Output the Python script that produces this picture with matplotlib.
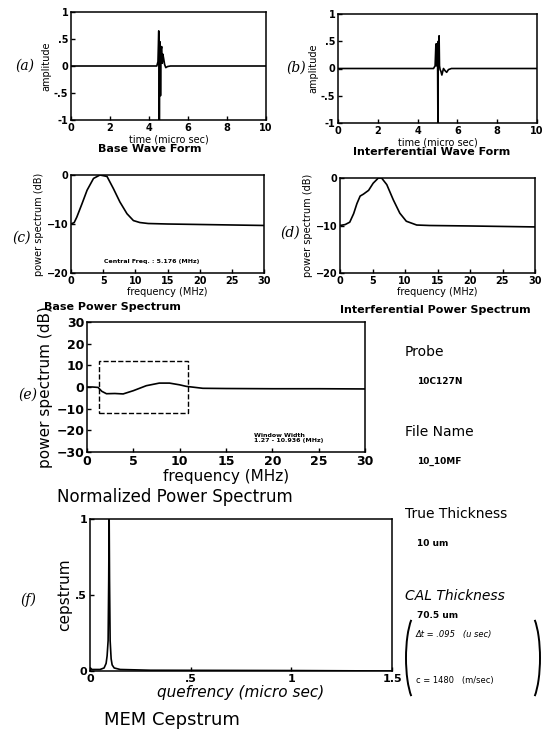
import matplotlib
matplotlib.use('Agg')
import matplotlib.pyplot as plt
from matplotlib.patches import Rectangle, Arc

W, H = 548, 731

# (a) base wave form
a_t = [0, 4.40, 4.46, 4.50, 4.53, 4.56, 4.59, 4.62, 4.65, 4.68, 4.71, 4.75, 4.80, 4.86, 4.95, 5.10, 10]
a_v = [0, 0.0, 0.08, 0.65, -1.0, 0.45, -0.55, 0.30, 0.36, 0.05, 0.22, 0.14, 0.03, -0.03, -0.01, 0.0, 0.0]

# (b) interferential wave form
b_t = [0, 4.80, 4.88, 4.92, 4.94, 4.96, 4.98, 5.00, 5.02, 5.04, 5.06, 5.08, 5.10, 5.13, 5.17, 5.22, 5.30, 5.38, 5.46, 5.55, 5.70, 10]
b_v = [0, 0, 0.05, 0.45, 0.05, 0.45, 0.1, 0.45, -1.0, 0.5, 0.1, 0.6, 0.05, -0.02, -0.05, -0.12, 0.0, -0.04, -0.07, -0.02, 0, 0]

# (c) base power spectrum
c_f = [0, 0.5, 0.9, 1.7, 2.5, 3.5, 4.5, 5.6, 6.6, 7.6, 8.7, 9.7, 10.7, 12, 15, 20, 25, 30]
c_db = [-10, -9.7, -8.6, -5.9, -3.1, -0.7, 0, -0.3, -2.8, -5.5, -7.9, -9.3, -9.7, -9.9, -10, -10.1, -10.2, -10.3]

# (d) interferential power spectrum
d_f = [0, 0.8, 1.5, 2.1, 2.6, 3.1, 3.6, 4.4, 5.1, 5.9, 6.4, 7.2, 8.2, 9.2, 10.2, 11.8, 13.8, 20, 25, 30]
d_db = [-10, -9.8, -9.3, -7.5, -5.4, -3.8, -3.4, -2.6, -1.1, 0, 0, -1.4, -4.6, -7.4, -9.1, -9.9, -10, -10.1, -10.2, -10.3]

# (e) normalized power spectrum
e_f = [0, 0.6, 1.2, 1.6, 2.1, 3.0, 3.9, 5.0, 6.4, 7.8, 8.9, 10.0, 10.7, 12.5, 15, 20, 25, 30]
e_db = [0, 0, -0.2, -2.0, -3.1, -3.0, -3.2, -1.7, 0.6, 1.8, 1.8, 1.0, 0.3, -0.6, -0.7, -0.8, -0.8, -0.9]
win_lo, win_hi = 1.27, 10.936

# (f) MEM cepstrum
f_q = [0, 0.01, 0.05, 0.07, 0.08, 0.085, 0.09, 0.093, 0.095, 0.097, 0.10, 0.105, 0.11, 0.12, 0.15, 0.3, 1.0, 1.5]
f_c = [0.02, 0.01, 0.01, 0.02, 0.05, 0.10, 0.20, 0.60, 1.05, 0.60, 0.20, 0.08, 0.04, 0.02, 0.01, 0.005, 0.003, 0.0]


def box(l, t, r, b):
    return [l / W, 1 - b / H, (r - l) / W, (b - t) / H]


def style(ax, fs=7):
    ax.tick_params(direction='in', length=3, width=1, labelsize=fs, pad=2)
    for lab in ax.get_xticklabels() + ax.get_yticklabels():
        lab.set_fontweight('bold')
    for s in ax.spines.values():
        s.set_linewidth(1.1)


fig = plt.figure(figsize=(W / 100, H / 100), dpi=100)
lw = 1.2

# (a)
ax = fig.add_axes(box(71, 12, 266, 120))
ax.plot(a_t, a_v, color='black', lw=lw)
ax.set_xlim(0, 10)
ax.set_ylim(-1, 1)
ax.set_xticks([0, 2, 4, 6, 8, 10])
ax.set_yticks([-1, -0.5, 0, 0.5, 1], ['-1', '-.5', '0', '.5', '1'])
style(ax)
ax.set_ylabel('amplitude', fontsize=7, labelpad=2)
ax.set_xlabel('time (micro sec)', fontsize=7, labelpad=1)
fig.text(150 / W, 1 - 149 / H, 'Base Wave Form', fontsize=8, fontweight='bold', ha='center', va='center')

# (b)
ax = fig.add_axes(box(338, 14, 537, 123))
ax.plot(b_t, b_v, color='black', lw=lw)
ax.set_xlim(0, 10)
ax.set_ylim(-1, 1)
ax.set_xticks([0, 2, 4, 6, 8, 10])
ax.set_yticks([-1, -0.5, 0, 0.5, 1], ['-1', '-.5', '0', '.5', '1'])
style(ax)
ax.set_ylabel('amplitude', fontsize=7, labelpad=2)
ax.set_xlabel('time (micro sec)', fontsize=7, labelpad=1)
fig.text(432 / W, 1 - 152 / H, 'Interferential Wave Form', fontsize=8, fontweight='bold', ha='center', va='center')

# (c)
ax = fig.add_axes(box(71, 175, 264, 273))
ax.plot(c_f, c_db, color='black', lw=lw)
ax.set_xlim(0, 30)
ax.set_ylim(-20, 0)
ax.set_xticks([0, 5, 10, 15, 20, 25, 30])
ax.set_yticks([-20, -10, 0])
style(ax)
ax.set_ylabel('power spectrum (dB)', fontsize=7, labelpad=2)
ax.set_xlabel('frequency (MHz)', fontsize=7, labelpad=1)
ax.text(0.42, 0.12, 'Central Freq. : 5.176 (MHz)', transform=ax.transAxes, fontsize=4.5,
        fontweight='bold', ha='center', va='center')
fig.text(112 / W, 1 - 307 / H, 'Base Power Spectrum', fontsize=8, fontweight='bold', ha='center', va='center')

# (d)
ax = fig.add_axes(box(340, 178, 535, 273))
ax.plot(d_f, d_db, color='black', lw=lw)
ax.set_xlim(0, 30)
ax.set_ylim(-20, 0)
ax.set_xticks([0, 5, 10, 15, 20, 25, 30])
ax.set_yticks([-20, -10, 0])
style(ax)
ax.set_ylabel('power spectrum (dB)', fontsize=7, labelpad=2)
ax.set_xlabel('frequency (MHz)', fontsize=7, labelpad=1)
fig.text(435 / W, 1 - 310 / H, 'Interferential Power Spectrum', fontsize=8, fontweight='bold', ha='center', va='center')

# (e)
ax = fig.add_axes(box(87, 322, 365, 452))
ax.plot(e_f, e_db, color='black', lw=lw)
ax.add_patch(Rectangle((win_lo, -12), win_hi - win_lo, 24, fill=False, ls='--', lw=1, color='black'))
ax.set_xlim(0, 30)
ax.set_ylim(-30, 30)
ax.set_xticks([0, 5, 10, 15, 20, 25, 30])
ax.set_yticks([-30, -20, -10, 0, 10, 20, 30])
style(ax, fs=9)
ax.set_ylabel('power spectrum (dB)', fontsize=11, labelpad=2)
ax.set_xlabel('frequency (MHz)', fontsize=11, labelpad=1)
ax.text(0.60, 0.11, 'Window Width\n1.27 - 10.936 (MHz)', transform=ax.transAxes, fontsize=4.5,
        fontweight='bold', ha='left', va='center', linespacing=0.9)
fig.text(175 / W, 1 - 497 / H, 'Normalized Power Spectrum', fontsize=12, ha='center', va='center')

# (f)
ax = fig.add_axes(box(90, 519, 392, 671))
ax.plot(f_q, f_c, color='black', lw=lw)
ax.set_xlim(0, 1.5)
ax.set_ylim(0, 1)
ax.set_xticks([0, 0.5, 1, 1.5], ['0', '.5', '1', '1.5'])
ax.set_yticks([0, 0.5, 1], ['0', '.5', '1'])
style(ax, fs=8)
ax.set_ylabel('cepstrum', fontsize=11, labelpad=2)
ax.set_xlabel('quefrency (micro sec)', fontsize=11, style='italic', labelpad=1)
fig.text(172 / W, 1 - 720 / H, 'MEM Cepstrum', fontsize=13, ha='center', va='center')

# panel labels
for lab, x, y in [('(a)', 25, 66), ('(b)', 296, 68), ('(c)', 22, 238), ('(d)', 290, 233),
                  ('(e)', 28, 395), ('(f)', 28, 600)]:
    fig.text(x / W, 1 - y / H, lab, fontsize=10, family='DejaVu Serif', style='italic',
             ha='center', va='center')

# right-side information
info = [('Probe', 352, 10, 'normal'), ('10C127N', 381, 6.5, 'bold'),
        ('File Name', 432, 10, 'normal'), ('10_10MF', 461, 6.5, 'bold'),
        ('True Thickness', 514, 10, 'normal'), ('10 um', 543, 6.5, 'bold'),
        ('CAL Thickness', 596, 10, 'normal'), ('70.5 um', 616, 6.5, 'bold')]
for txt, y, fs, wt in info:
    x = 405 if wt == 'normal' else 417
    fig.text(x / W, 1 - y / H, txt, fontsize=fs, fontweight=wt,
             style='italic' if txt.startswith('CAL') else 'normal', ha='left', va='center')
fig.text(416 / W, 1 - 634 / H, '\u0394t = .095   (u sec)', fontsize=6, style='italic',
         ha='left', va='center')
fig.text(416 / W, 1 - 681 / H, 'c = 1480   (m/sec)', fontsize=6, ha='left', va='center')

# brackets around the formula, drawn in pixel space
over = fig.add_axes([0, 0, 1, 1], zorder=-1)
over.set_xlim(0, W)
over.set_ylim(H, 0)
over.axis('off')
over.add_patch(Arc((418, 658), 24, 92, theta1=100, theta2=260, lw=1.4, color='black'))
over.add_patch(Arc((528, 658), 24, 92, theta1=-80, theta2=80, lw=1.4, color='black'))

fig.savefig('out.png', dpi=100)
